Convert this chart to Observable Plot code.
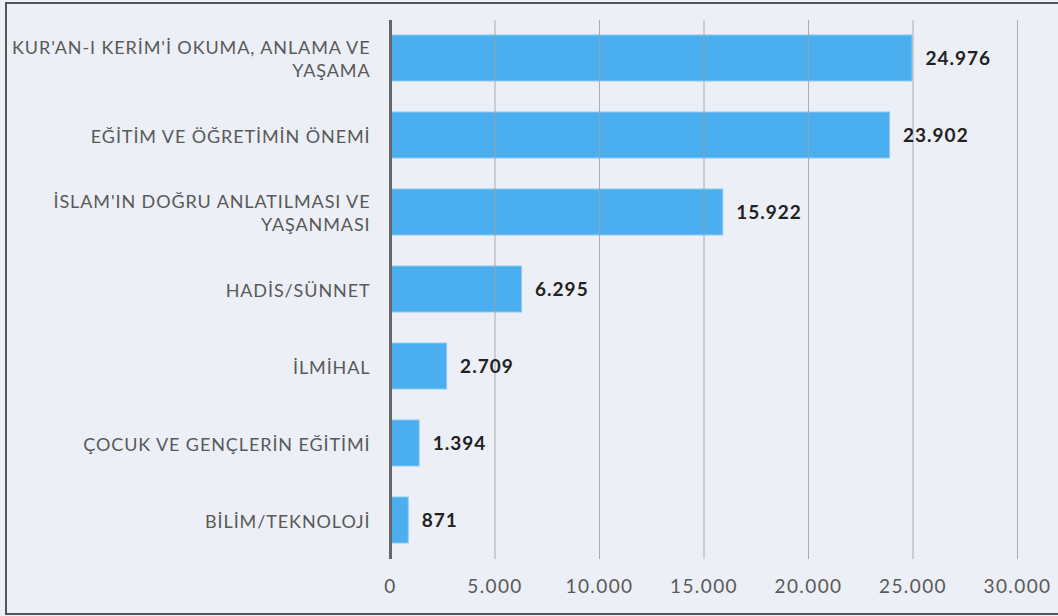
<!DOCTYPE html>
<html>
<head>
<meta charset="utf-8">
<script src="https://cdn.jsdelivr.net/npm/d3@7"></script>
<script src="https://cdn.jsdelivr.net/npm/@observablehq/plot@0.6"></script>
<style>
  html, body { margin: 0; padding: 0; background: #eceff6; }
  #wrap { position: relative; width: 1058px; height: 616px; overflow: hidden; background: #eceff6; }
  #frame { position: absolute; left: 5px; top: 2px; width: 1060px; height: 613px; border: 2px solid #555; box-sizing: border-box; pointer-events: none; }
  svg { display: block; }
  g[aria-label="y-axis tick label"] text { letter-spacing: 0.9px; }
  g[aria-label="x-axis tick label"] text { letter-spacing: 1.4px; }
  g[aria-label="text"] text { letter-spacing: 1px; }
</style>
</head>
<body>
<div id="wrap"><div id="frame"></div></div>
<script>
const categories = [
  "KUR'AN-I KERİM'İ OKUMA, ANLAMA VE\nYAŞAMA",
  "EĞİTİM VE ÖĞRETİMİN ÖNEMİ",
  "İSLAM'IN DOĞRU ANLATILMASI VE\nYAŞANMASI",
  "HADİS/SÜNNET",
  "İLMİHAL",
  "ÇOCUK VE GENÇLERİN EĞİTİMİ",
  "BİLİM/TEKNOLOJİ"
];
const values = [24976, 23902, 15922, 6295, 2709, 1394, 871];
const valueLabels = ["24.976", "23.902", "15.922", "6.295", "2.709", "1.394", "871"];
const xTicks = [0, 5000, 10000, 15000, 20000, 25000, 30000];
const xTickLabels = ["0", "5.000", "10.000", "15.000", "20.000", "25.000", "30.000"];

const data = categories.map((c, i) => ({cat: c, value: values[i], label: valueLabels[i]}));

const font = "Lato, 'Open Sans', sans-serif";

const chart = Plot.plot({
  width: 1058,
  height: 616,
  marginLeft: 390,
  marginRight: 41,
  marginTop: 20,
  marginBottom: 57,
  style: {background: "transparent", fontFamily: font},
  x: {domain: [0, 30000], label: null},
  y: {domain: categories, paddingInner: 0.40, paddingOuter: 0.2, label: null},
  marks: [
    Plot.barX(data, {x: "value", y: "cat", fill: "#45abee", stroke: "#8ccaf4", strokeWidth: 1, fillOpacity: 0.97}),
    Plot.gridX(xTicks.filter(d => d > 0), {stroke: "#a0a0a0", strokeOpacity: 0.85, strokeWidth: 1}),
    Plot.ruleX([0], {stroke: "#666", strokeWidth: 3}),
    Plot.text(data, {x: "value", y: "cat", text: "label", dx: 13, textAnchor: "start", fontWeight: "bold", fontSize: 19, fill: "#222"}),
    Plot.axisX({ticks: xTicks, tickFormat: (d) => xTickLabels[xTicks.indexOf(d)], tickSize: 0, tickPadding: 20, fontSize: 19, fill: "#595959", label: null}),
    Plot.axisY({tickSize: 0, tickPadding: 20, fontSize: 18, fill: "#595959", label: null, lineHeight: 1.28})
  ]
});
document.getElementById("wrap").prepend(chart);
</script>
</body>
</html>
